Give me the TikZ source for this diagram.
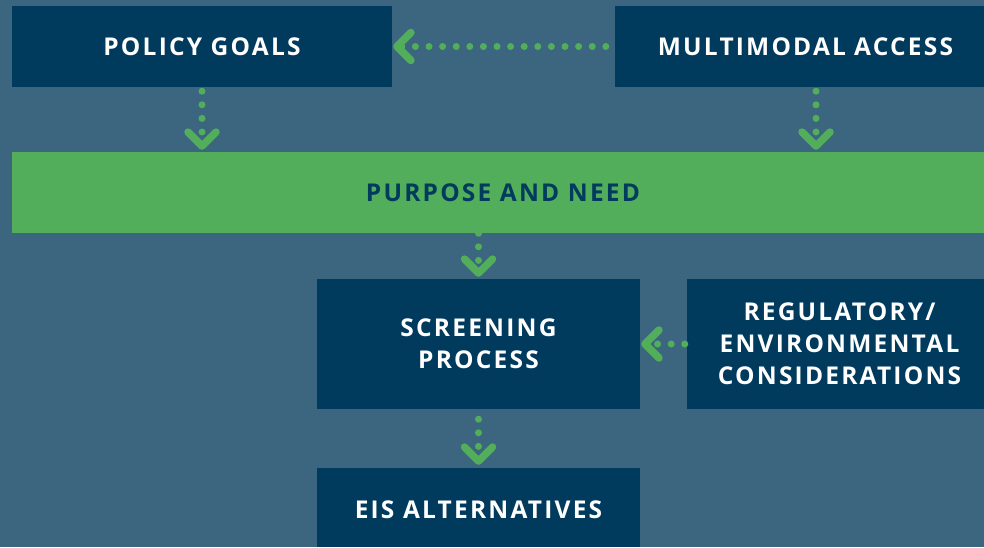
\documentclass[tikz,border=0pt]{standalone}
\usepackage{fontspec}
\setmainfont{Open Sans}[LetterSpace=9]
\usetikzlibrary{arrows.meta}
\definecolor{bgc}{RGB}{60,101,128}
\definecolor{navy}{RGB}{0,58,93}
\definecolor{grn}{RGB}{82,174,90}
\tikzset{
  box/.style={fill=navy, text=white, font=\bfseries\fontsize{24.5}{32}\selectfont, align=center, inner sep=0pt},
  bar/.style={fill=grn, text=navy, font=\bfseries\fontsize{24.5}{32}\selectfont, inner sep=0pt},
  arr/.style={draw=grn, line width=7pt, line cap=round, dash pattern=on 0pt off 13.6pt,
    -{Straight Barb[length=14pt, width=28pt, line width=7.5pt, round]}},
}
\begin{document}
\begin{tikzpicture}[x=1pt,y=-1pt]
\fill[bgc] (0,0) rectangle (984,547);
\useasboundingbox (0,0) rectangle (984,547);
\node[box, minimum width=380pt, minimum height=81pt] (pol) at (202,46.5) {POLICY GOALS};
\node[box, minimum width=369pt, minimum height=81pt, text width=369pt] (mma) at (799.5,46.5) {\hspace*{12pt}MULTIMODAL ACCESS};
\node[bar, minimum width=972pt, minimum height=81pt] (pan) at (498,192.5) {\hspace*{10pt}PURPOSE AND NEED};
\node[box, minimum width=323pt, minimum height=130pt] (scr) at (478.5,344) {SCREENING\\PROCESS};
\node[box, minimum width=297pt, minimum height=130pt, text width=297pt] (reg) at (835.5,344) {\hspace*{8pt}REGULATORY/\\\hspace*{8pt}ENVIRONMENTAL\\\hspace*{8pt}CONSIDERATIONS};
\node[box, minimum width=323pt, minimum height=79pt] (eis) at (478.5,507.5) {\raisebox{-11pt}[0pt][0pt]{EIS ALTERNATIVES}};
\draw[arr] ([xshift=-9pt]mma.west) -- ([xshift=1pt]pol.east);
\draw[arr] ([yshift=-4pt]pol.south) -- ([yshift=2pt]pol.south |- pan.north);
\draw[arr] ([xshift=16.5pt,yshift=-4pt]mma.south) -- ([xshift=16.5pt,yshift=2pt]mma.south |- pan.north);
\draw[arr] (scr.north |- pan.south) -- ([yshift=2pt]scr.north);
\draw[arr] ([xshift=-2pt]reg.west) -- ([xshift=1pt]scr.east);
\draw[arr] ([yshift=-10pt]scr.south) -- ([yshift=3pt]eis.north);
\end{tikzpicture}
\end{document}
